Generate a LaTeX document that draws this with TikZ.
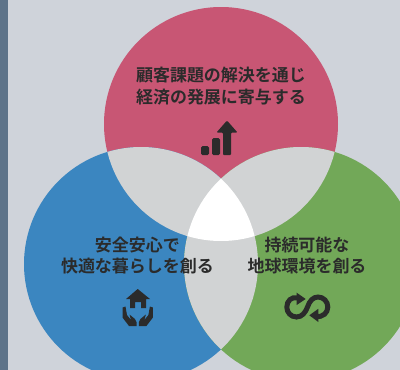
\documentclass[tikz,border=0pt]{standalone}
\usepackage{fontspec}
\setmainfont{Noto Sans CJK JP}[BoldFont={Noto Sans CJK JP Bold}]
\definecolor{bgc}{HTML}{CFD3DA}
\definecolor{stripc}{HTML}{5E7389}
\definecolor{pinkc}{HTML}{C85674}
\definecolor{bluec}{HTML}{3B86C0}
\definecolor{greenc}{HTML}{72A858}
\definecolor{grayc}{HTML}{D1D3D4}
\definecolor{inkc}{HTML}{2B2B2B}
\tikzset{
  px/.style={x=1pt,y=-1pt},
  label/.style={text=inkc,font=\fontsize{17}{21.5}\selectfont\bfseries,align=center,inner sep=0pt},
  icon/.style={fill=inkc,draw=none},
  loopline/.style={draw=inkc,line width=5pt,line cap=butt}
}
\begin{document}
\begin{tikzpicture}[px]
\useasboundingbox (0,0) rectangle (400,370);
\clip (0,0) rectangle (400,370);
\fill[bgc] (0,0) rectangle (400,370);
\fill[stripc] (0,0) rectangle (8,370);
\def\R{117}
\fill[pinkc] (221,124) circle[radius=\R];
\fill[bluec] (141,264) circle[radius=\R];
\fill[greenc] (301,264) circle[radius=\R];
\begin{scope}\clip (221,124) circle[radius=\R];\fill[grayc] (141,264) circle[radius=\R];\end{scope}
\begin{scope}\clip (221,124) circle[radius=\R];\fill[grayc] (301,264) circle[radius=\R];\end{scope}
\begin{scope}\clip (141,264) circle[radius=\R];\fill[grayc] (301,264) circle[radius=\R];\end{scope}
\begin{scope}\clip (221,124) circle[radius=\R];\clip (141,264) circle[radius=\R];\fill[white] (301,264) circle[radius=\R];\end{scope}
\node[label] (tlabel) at (221,86) {顧客課題の解決を通じ\\経済の発展に寄与する};
\node[label] (llabel) at (137.5,255.5) {安全安心で\\快適な暮らしを創る};
\node[label] (rlabel) at (307,255.5) {持続可能な\\地球環境を創る};
% chart icon
\fill[icon,rounded corners=1.5pt] (201,146) rectangle (209,155);
\fill[icon,rounded corners=1.5pt] (212,138) rectangle (220,155);
\fill[icon,rounded corners=1pt] (223,155) -- (223,132.5) -- (216.5,132.5) -- (227,120.5) -- (237.5,132.5) -- (231,132.5) -- (231,155) -- cycle;
% house icon
\fill[icon] (137.7,289) -- (150,299) -- (146,299) -- (146,308) -- (141,308) -- (141,302) -- (135,302) -- (135,308) -- (130,308) -- (130,299) -- (126,299) -- cycle;
\fill[icon] (122.5,307.5) -- (125.5,306.5) -- (127,315) -- (131,320) -- (129.5,314.5) -- (135,319) -- (136.5,322) -- (136.5,326) -- (129,326) -- (122.5,317.5) -- cycle;
\fill[icon] (152.9,307.5) -- (149.9,306.5) -- (148.4,315) -- (144.4,320) -- (145.9,314.5) -- (140.4,319) -- (138.9,322) -- (138.9,326) -- (146.4,326) -- (152.9,317.5) -- cycle;
% loop icon
\draw[loopline] (298,297.8) .. controls (291.5,296.3) and (286.8,301) .. (286.8,307) .. controls (286.8,312.6) and (291,317) .. (296.5,317) .. controls (302,317) and (305.5,312.5) .. (307.5,307) .. controls (309.5,301) and (313,297) .. (318,297) .. controls (323.5,297) and (327.8,301.5) .. (327.8,307) .. controls (327.8,312.6) and (323,317.6) .. (316,316.3);
\fill[icon] (296.7,292.7) -- (305.7,299) -- (296.7,305) -- cycle;
\fill[icon] (318.3,308.8) -- (309.3,315.3) -- (318.3,322) -- cycle;
\end{tikzpicture}
\end{document}
